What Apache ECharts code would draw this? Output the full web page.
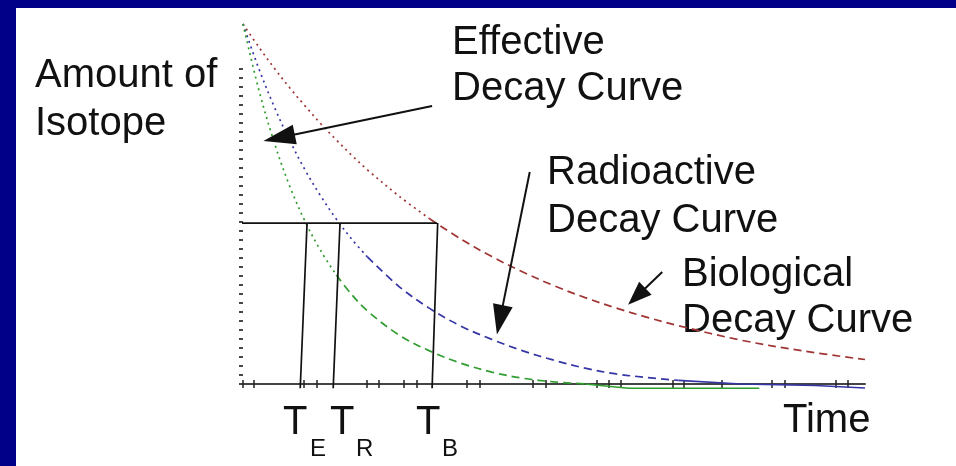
<!DOCTYPE html>
<html>
<head>
<meta charset="utf-8">
<script src="https://cdn.jsdelivr.net/npm/echarts@6/dist/echarts.min.js"></script>
<style>
html,body{margin:0;padding:0;background:#fff;}
#chart{width:956px;height:466px;}
</style>
</head>
<body>
<div id="chart"></div>
<script>
// ---- data (time units 0..10, amount 0..1) ----
var times      = [0, 0.25, 0.5, 0.75, 1, 1.25, 1.5, 1.75, 2, 2.5, 3, 3.5, 4, 4.5, 5, 5.5, 6, 6.5, 7, 8, 9, 10];
var biological = [1, 0.937, 0.878, 0.823, 0.772, 0.723, 0.678, 0.635, 0.595, 0.523, 0.459, 0.403, 0.354, 0.311, 0.273, 0.24, 0.211, 0.185, 0.162, 0.122, 0.092, 0.068];
var radioactive= [1, 0.878, 0.771, 0.677, 0.594, 0.522, 0.458, 0.402, 0.353, 0.272, 0.21, 0.161, 0.124, 0.092, 0.066, 0.044, 0.028, 0.018, 0.01];
var effective  = [1, 0.82, 0.672, 0.55, 0.451, 0.37, 0.303, 0.248, 0.203, 0.137, 0.092, 0.058, 0.033, 0.016, 0.006, 0.0];
// solid tails near the axis
var radioTailT = [7, 8, 9.2, 10];
var radioTailV = [0.01, 0.0, -0.004, -0.011];
var effTailT   = [5.5, 6.2, 8.3];
var effTailV   = [0.0, -0.012, -0.012];
// half-life construction
var halfLevel = 0.447;
var halfLineX = [-0.13, 3.12];
var tTopX     = [1.03, 1.56, 3.13];   // T_E, T_R, T_B at the half line
var tBottomX  = [0.92, 1.45, 3.04];   // at the time axis
var guideBottom = -0.012;
// arrows [fromT, fromV, toT, toV]
var arrowEffective  = [3.04, 0.772, 0.58, 0.684];
var arrowRadioactive= [4.61, 0.589, 4.13, 0.178];
var arrowBiological = [6.74, 0.311, 6.33, 0.243];
// tick positions
var xTicks = [0, 0.18, 0.98, 1.19, 1.99, 2.19, 2.59, 2.80, 3.60, 3.81, 4.66, 4.87, 5.68, 5.88, 6.08, 6.91, 7.09, 7.70, 8.50, 8.71, 9.53, 9.73];
var yTicks = [];
for (var i = 0; i <= 35; i++) yTicks.push(+(i * 0.025).toFixed(3));

function pairs(ts, vs, from, to) {
  var out = [];
  for (var i = 0; i < vs.length; i++) {
    if (ts[i] >= from && ts[i] <= to) out.push([ts[i], vs[i]]);
  }
  return out;
}

var RED = '#a03434', BLUE = '#3535a5', GREEN = '#2f9d2f';
var dotted = [2, 4], dashed = [8, 5];

function curve(name, data, color, dash) {
  return {
    name: name, type: 'line', data: data, smooth: 0.35, symbol: 'none', clip: false,
    lineStyle: { color: color, width: 1.7, type: dash }, silent: true
  };
}
function guide(data) {
  return { type: 'line', data: data, symbol: 'none', clip: false, silent: true,
    lineStyle: { color: '#111', width: 1.7, type: 'solid' } };
}

var guideSeries = [guide([[halfLineX[0], halfLevel], [halfLineX[1], halfLevel]])];
for (var j = 0; j < tTopX.length; j++) {
  guideSeries.push(guide([[tTopX[j], halfLevel], [tBottomX[j], guideBottom]]));
}
function arrow(a, size) {
  return [{ coord: [a[0], a[1]], symbol: 'none' },
          { coord: [a[2], a[3]], symbol: 'triangle', symbolSize: size }];
}

var font = '40px "Liberation Sans", Arial, sans-serif';
var subFont = '24px "Liberation Sans", Arial, sans-serif';
function txt(s, x, capTop, f) {
  var big = !f;
  return { type: 'text', x: x, y: capTop - (big ? 4 : 3), silent: true,
    style: { text: s, font: f || font, fill: '#111', verticalAlign: 'top', align: 'left' } };
}

var option = {
  animation: false,
  backgroundColor: '#ffffff',
  grid: { left: 243, top: 24, width: 622, height: 360, containLabel: false },
  xAxis: [
    { type: 'value', min: 0, max: 10, gridIndex: 0, position: 'bottom',
      axisLine: { show: true, onZero: false, lineStyle: { color: '#444', width: 2 } },
      axisTick: { show: true, customValues: xTicks, length: 4, inside: false, lineStyle: { color: '#222', width: 1.5 } },
      axisLabel: { show: false }, splitLine: { show: false } },
    { type: 'value', min: 0, max: 10, gridIndex: 0, position: 'bottom',
      axisLine: { show: false, onZero: false },
      axisTick: { show: true, customValues: xTicks, length: 4, inside: true, lineStyle: { color: '#222', width: 1.5 } },
      axisLabel: { show: false }, splitLine: { show: false } }
  ],
  yAxis: { type: 'value', min: 0, max: 1,
    axisLine: { show: false },
    axisTick: { show: true, customValues: yTicks, length: 4, inside: false, lineStyle: { color: '#333', width: 1.8 } },
    axisLabel: { show: false }, splitLine: { show: false } },
  series: [
    curve('Biological dotted', pairs(times, biological, 0, 3), RED, dotted),
    curve('Biological dashed', pairs(times, biological, 3, 10), RED, dashed),
    curve('Radioactive dotted', pairs(times, radioactive, 0, 2), BLUE, dotted),
    curve('Radioactive dashed', pairs(times, radioactive, 2, 10), BLUE, dashed),
    curve('Effective dotted', pairs(times, effective, 0, 1.5), GREEN, dotted),
    curve('Effective dashed', pairs(times, effective, 1.5, 10), GREEN, dashed),
    { type: 'line', data: radioTailT.map(function (t, k) { return [t, radioTailV[k]]; }), symbol: 'none', clip: false,
      lineStyle: { color: BLUE, width: 1.6 }, silent: true },
    { type: 'line', data: effTailT.map(function (t, k) { return [t, effTailV[k]]; }), symbol: 'none', clip: false,
      lineStyle: { color: GREEN, width: 1.6 }, silent: true },
    { type: 'line', data: [], silent: true,
      markLine: { silent: true, animation: false,
        lineStyle: { color: '#111', width: 2, type: 'solid' }, label: { show: false },
        itemStyle: { color: '#000' },
        emphasis: { disabled: true },
        data: [arrow(arrowEffective, [20, 32]), arrow(arrowRadioactive, [20, 30]), arrow(arrowBiological, [18, 24])] } }
  ].concat(guideSeries),
  graphic: [
    { type: 'rect', shape: { x: 0, y: 0, width: 956, height: 8 }, style: { fill: '#000088' }, silent: true },
    { type: 'rect', shape: { x: 0, y: 0, width: 16, height: 466 }, style: { fill: '#000088' }, silent: true },
    txt('Amount of', 35, 60),
    txt('Isotope', 35, 108),
    txt('Effective', 452, 27),
    txt('Decay Curve', 452, 73),
    txt('Radioactive', 547, 157),
    txt('Decay Curve', 547, 205),
    txt('Biological', 682, 259),
    txt('Decay Curve', 682, 305),
    txt('T', 283, 407),
    txt('E', 310, 440, subFont),
    txt('T', 330, 407),
    txt('R', 356, 440, subFont),
    txt('T', 416, 407),
    txt('B', 442, 440, subFont),
    txt('Time', 783, 405)
  ]
};
echarts.init(document.getElementById('chart')).setOption(option);
</script>
</body>
</html>
